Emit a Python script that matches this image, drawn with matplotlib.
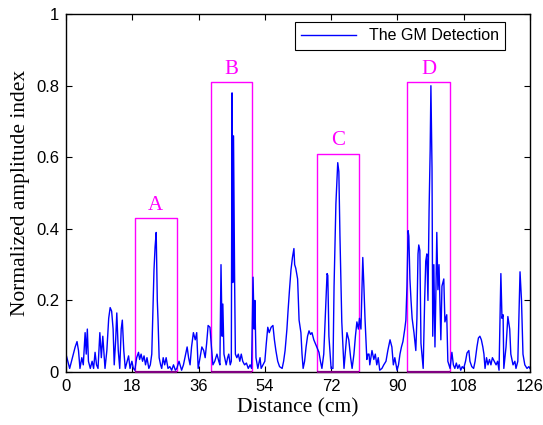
import matplotlib
matplotlib.use("Agg")
import matplotlib.pyplot as plt

# distance (cm) and normalized amplitude
distance = [
    0.0, 0.5, 1.0, 1.5, 2.0, 2.5, 3.0, 3.4, 3.8, 4.3, 4.7, 5.2, 5.5, 5.8, 6.1,
    6.6, 7.1, 7.5, 7.9, 8.3, 8.7, 9.2, 9.6, 10.0, 10.6, 11.1, 11.6, 12.0, 12.4,
    12.8, 13.1, 13.5, 13.8, 14.2, 14.6, 15.0, 15.3, 15.7, 16.1, 16.6, 17.0,
    17.4, 17.9, 18.3,
    18.7, 19.2, 19.7, 20.0, 20.4, 20.8, 21.2, 21.6, 22.0, 22.5, 22.9, 23.3,
    23.7, 23.9, 24.2, 24.5, 24.8, 25.0, 25.3, 25.7, 26.0, 26.4, 26.8, 27.2,
    27.7, 28.2, 28.7, 29.2, 29.7, 30.1, 30.7, 31.4, 31.9, 32.3, 32.9, 33.3,
    33.7, 34.1, 34.6, 35.1, 35.5, 35.9, 36.4, 36.9, 37.4, 37.8, 38.2, 38.6,
    39.1, 39.5, 39.9, 40.4, 41.0, 41.5, 41.8,
    42.1, 42.4, 42.6, 42.9, 43.5, 43.9, 44.2, 44.6, 44.9, 45.1, 45.3, 45.5,
    45.8, 46.0, 46.4, 46.8, 47.2, 47.6, 48.0, 48.5, 49.0, 49.5, 50.0, 50.4,
    50.8, 51.1, 51.3, 51.6, 52.1, 52.5, 52.7, 53.0, 53.5, 54.0, 54.4, 54.8,
    55.2, 55.7, 56.2, 56.6, 57.0, 57.5, 58.0, 58.7, 59.1, 59.5, 60.0, 60.3,
    60.7, 61.1, 61.5, 61.9, 62.1, 62.4, 62.9, 63.3, 63.8, 64.1, 64.4, 64.8,
    65.2, 65.6, 66.0, 66.4, 66.8, 67.3, 67.7, 68.1, 68.7, 69.1, 69.5, 70.0,
    70.4, 70.9, 71.1, 71.4, 72.0, 72.5, 72.8, 73.3, 73.8, 74.1, 74.4, 74.9,
    75.5, 75.9, 76.3, 76.8, 77.3, 77.7, 78.2, 78.6, 79.0, 79.4, 79.7, 80.1,
    80.6, 80.9, 81.2, 81.7, 82.0, 82.3, 82.5, 83.1, 83.6, 84.0, 84.4, 84.8,
    85.2, 85.8, 86.3, 86.9, 87.4, 88.0, 88.5, 88.9, 89.3, 89.9, 90.3, 90.7,
    91.1, 91.5, 92.0, 92.3, 92.6, 92.9, 93.1, 93.4, 93.7, 94.0, 94.5, 95.0,
    95.3, 95.6, 95.8, 96.1, 96.4, 97.0, 97.4, 97.7, 98.0, 98.3, 98.6, 98.9,
    99.1, 99.4, 99.6, 99.9, 100.2, 100.5, 100.7, 101.0, 101.3, 101.8, 102.1,
    102.6, 102.9, 103.4, 103.7, 104.3, 104.8, 105.2, 105.6, 106.0, 106.4,
    106.8, 107.2, 107.6, 108.0, 108.5, 108.9, 109.4, 109.7, 110.2, 110.7,
    111.1, 111.6, 112.0, 112.4, 112.8, 113.2, 113.5, 113.8, 114.2, 114.6,
    115.0, 115.4, 115.8, 116.3, 116.8, 117.2, 117.6, 118.1, 118.4, 118.7,
    118.9, 119.5, 120.0, 120.5, 120.8, 121.4, 121.9, 122.2, 122.7, 123.3,
    123.7, 124.1, 124.6, 125.2, 125.7, 126.0,
]
amplitude = [
    0.05, 0.03, 0.01, 0.03, 0.05, 0.07, 0.085, 0.06, 0.01, 0.04, 0.02, 0.11,
    0.05, 0.12, 0.03, 0.01, 0.03, 0.01, 0.055, 0.02, 0.01, 0.11, 0.04, 0.10,
    0.01, 0.06, 0.15, 0.18, 0.17, 0.12, 0.02, 0.09, 0.165, 0.06, 0.01, 0.12,
    0.145, 0.06, 0.01, 0.03, 0.045, 0.01, 0.03, 0.01,
    0.005, 0.04, 0.055, 0.035, 0.05, 0.03, 0.045, 0.02, 0.04, 0.01, 0.02,
    0.05, 0.2, 0.285, 0.35, 0.39, 0.2, 0.145, 0.04, 0.02, 0.01, 0.04, 0.02,
    0.04, 0.01, 0.015, 0.005, 0.02, 0.005, 0.01, 0.03, 0.005, 0.02, 0.04,
    0.07, 0.04, 0.02, 0.07, 0.11, 0.09, 0.11, 0.01, 0.04, 0.07, 0.06, 0.04,
    0.08, 0.13, 0.125, 0.07, 0.02, 0.03, 0.05, 0.03, 0.02,
    0.30, 0.10, 0.19, 0.05, 0.02, 0.04, 0.05, 0.02, 0.03, 0.78, 0.25, 0.66,
    0.25, 0.05, 0.04, 0.05, 0.03, 0.05, 0.03, 0.02, 0.025, 0.01, 0.02, 0.01,
    0.265, 0.12, 0.20, 0.04, 0.01, 0.03, 0.04, 0.01, 0.02, 0.03, 0.08, 0.125,
    0.11, 0.125, 0.13, 0.09, 0.06, 0.03, 0.015, 0.01, 0.03, 0.06, 0.12, 0.17,
    0.23, 0.285, 0.32, 0.345, 0.30, 0.29, 0.26, 0.145, 0.11, 0.05, 0.01, 0.03,
    0.07, 0.10, 0.115, 0.105, 0.11, 0.09, 0.08, 0.07, 0.055, 0.03, 0.01, 0.05,
    0.15, 0.275, 0.27, 0.10, 0.01, 0.01, 0.24, 0.47, 0.585, 0.56, 0.38, 0.14,
    0.01, 0.06, 0.11, 0.09, 0.04, 0.01, 0.05, 0.10, 0.14, 0.12, 0.15, 0.12,
    0.32, 0.24, 0.15, 0.035, 0.05, 0.05, 0.02, 0.06, 0.035, 0.05, 0.02, 0.04,
    0.005, 0.01, 0.02, 0.03, 0.06, 0.09, 0.07, 0.02, 0.04, 0.005, 0.02, 0.05,
    0.07, 0.085, 0.12, 0.145, 0.24, 0.395, 0.38, 0.26, 0.20, 0.15, 0.11, 0.06,
    0.15, 0.33, 0.355, 0.34, 0.08, 0.01, 0.2, 0.31, 0.33, 0.2, 0.45, 0.62,
    0.80, 0.57, 0.10, 0.30, 0.07, 0.25, 0.39, 0.23, 0.30, 0.09, 0.24,
    0.26, 0.14, 0.16, 0.03, 0.01, 0.055, 0.02, 0.01, 0.025, 0.01,
    0.02, 0.005, 0.015, 0.01, 0.03, 0.053, 0.06, 0.03, 0.015, 0.01,
    0.03, 0.07, 0.095, 0.10, 0.09, 0.07, 0.05, 0.01, 0.04, 0.02,
    0.035, 0.02, 0.04, 0.03, 0.02, 0.03, 0.005, 0.275, 0.15, 0.16,
    0.01, 0.07, 0.155, 0.12, 0.05, 0.02, 0.03, 0.01, 0.03, 0.28,
    0.20, 0.05, 0.02, 0.01, 0.015, 0.01,
]

# highlighted regions: label, start, end, height
box_labels = ["A", "B", "C", "D"]
box_start = [18.7, 39.4, 68.1, 92.6]
box_end = [30.1, 50.5, 79.6, 104.3]
box_top = [0.43, 0.81, 0.61, 0.81]

x_ticks = [0, 18, 36, 54, 72, 90, 108, 126]
y_ticks = [0, 0.2, 0.4, 0.6, 0.8, 1]
y_tick_labels = ["0", "0.2", "0.4", "0.6", "0.8", "1"]

fig = plt.figure(figsize=(5.43, 4.25), dpi=100)
ax = fig.add_axes([0.1215, 0.1247, 0.8545, 0.842])

ax.plot(distance, amplitude, color="#0000ff", linewidth=1.0,
        label="The GM Detection", zorder=2)

for lab, x0, x1, top in zip(box_labels, box_start, box_end, box_top):
    ax.plot([x0, x0, x1, x1], [0, top, top, 0], color="#ff00ff",
            linewidth=1.0, zorder=1.5)
    ax.plot([x0, x1], [0, 0], color="#800080", linewidth=1.6,
            zorder=3, clip_on=False, solid_capstyle="butt")
    ax.text((x0 + x1) / 2, top + 0.01, lab, color="#ff00ff",
            ha="center", va="bottom", fontsize=15,
            family="Liberation Serif")

ax.set_xlim(0, 126)
ax.set_ylim(0, 1)
ax.set_xticks(x_ticks)
ax.set_yticks(y_ticks)
ax.set_yticklabels(y_tick_labels)
ax.tick_params(direction="in", top=True, right=True, length=4,
               width=0.8, labelsize=12, pad=5)
for t in ax.get_xticklabels() + ax.get_yticklabels():
    t.set_family("Liberation Sans")
for s in ax.spines.values():
    s.set_linewidth(1.0)

ax.set_xlabel("Distance (cm)", family="Liberation Serif", fontsize=15.5,
              labelpad=3)
ax.set_ylabel("Normalized amplitude index", family="Liberation Serif",
              fontsize=15.5, labelpad=4)

leg = ax.legend(loc="upper right", bbox_to_anchor=(0.946, 0.978),
                borderaxespad=0, fancybox=False, framealpha=1,
                edgecolor="black", handlelength=3.4,
                prop={"family": "Liberation Sans", "size": 11.5})
leg.get_frame().set_linewidth(0.8)

fig.savefig("out.png", dpi=100)
